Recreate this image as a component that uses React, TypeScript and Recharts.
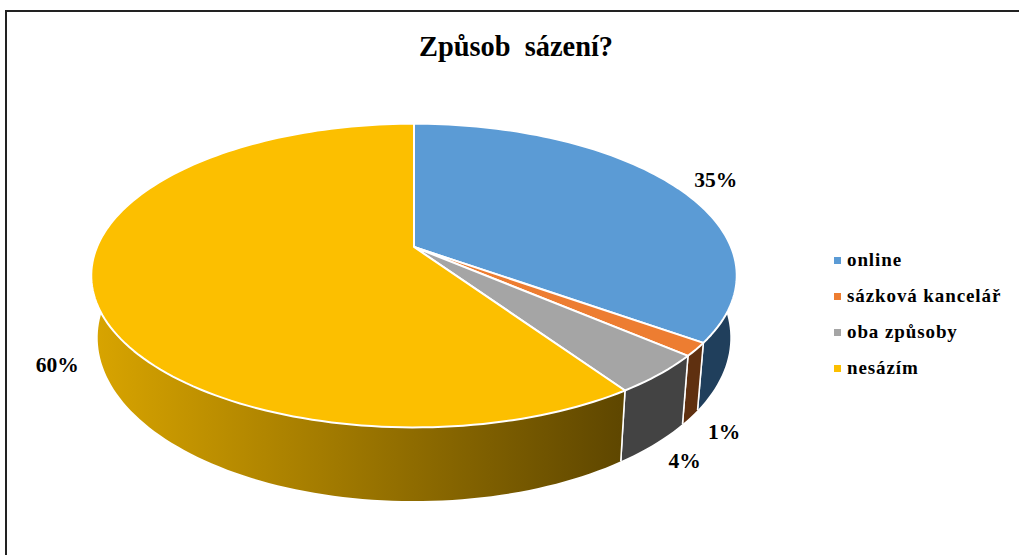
import { Legend, Pie, PieChart } from "recharts";

const categories = ["online", "sázková kancelář", "oba způsoby", "nesázím"];
const shares = [34.9, 1.4, 4.2, 59.5];
const topColors = ["#5b9bd5", "#ed7d31", "#a5a5a5", "#fcbf00"];
const wallColors = ["#203f5c", "#5f3010", "#434343", "url(#yellowWall)"];
// label offset from the rim point of each slice
const labelNudges = [
  [42, -5],
  [28, 83],
  [25, 87],
  [-36, 72],
];

const tableData = categories.map((name, i) => ({
  name,
  value: shares[i],
  fill: topColors[i],
  wall: wallColors[i],
}));

const CX = 414;
const CY = 247;
const RADIUS = 317;
// perspective of the tilted disc, fitted to the rim of the picture
const TILT = 146.5 / 317;
const FAR = 0.188;

const RAD = Math.PI / 180;

// recharts angle (deg, ccw from 3 o'clock) to a point on the tilted top disc
function rimTop(angle: number, r = RADIUS) {
  const u = Math.cos(angle * RAD);
  const v = Math.sin(angle * RAD);
  const d = 1 + FAR * v;
  return { x: CX + (r * u) / d, y: CY - (r * TILT * v) / d };
}

function rimBottom(angle: number, r = RADIUS) {
  const u = Math.cos(angle * RAD);
  const v = Math.sin(angle * RAD);
  const d = 1 + FAR * v;
  return { x: CX + (r * 0.98 * u) / d, y: 307 - (r * 0.4972 * v) / d };
}

function arcAngles(start: number, end: number) {
  const steps = Math.max(2, Math.ceil(Math.abs(end - start) / 1.5));
  const out: number[] = [];
  for (let i = 0; i <= steps; i++) out.push(start + ((end - start) * i) / steps);
  return out;
}

function TopSlice(props: any) {
  const { startAngle, endAngle, outerRadius, fill } = props;
  const pts = arcAngles(startAngle, endAngle).map((a) => rimTop(a, outerRadius));
  const d = `M${CX},${CY} ` + pts.map((p) => `L${p.x},${p.y}`).join(" ") + " Z";
  return <path d={d} fill={fill} stroke="#fff" strokeWidth={2} strokeLinejoin="round" />;
}

function WallSlice(props: any) {
  const { startAngle, endAngle, outerRadius, wall } = props;
  const angles = arcAngles(startAngle, endAngle);
  let d = "";
  for (let i = 0; i < angles.length - 1; i++) {
    const a = rimTop(angles[i], outerRadius);
    const b = rimTop(angles[i + 1], outerRadius);
    const c = rimBottom(angles[i + 1], outerRadius);
    const e = rimBottom(angles[i], outerRadius);
    d += `M${a.x},${a.y} L${b.x},${b.y} L${c.x},${c.y} L${e.x},${e.y} Z `;
  }
  const s0 = rimTop(startAngle, outerRadius);
  const s1 = rimBottom(startAngle, outerRadius);
  const e0 = rimTop(endAngle, outerRadius);
  const e1 = rimBottom(endAngle, outerRadius);
  return (
    <g>
      <path d={d} fill={wall} stroke="none" />
      <line x1={s0.x} y1={s0.y} x2={s1.x} y2={s1.y} stroke="#fff" strokeWidth={1.5} />
      <line x1={e0.x} y1={e0.y} x2={e1.x} y2={e1.y} stroke="#fff" strokeWidth={1.5} />
    </g>
  );
}

function percentLabel(props: any) {
  const { midAngle, outerRadius, index, value } = props;
  const p = rimTop(midAngle, outerRadius);
  const [dx, dy] = labelNudges[index];
  return (
    <text
      x={p.x + dx}
      y={p.y + dy}
      textAnchor="middle"
      dominantBaseline="central"
      fontFamily="'Liberation Serif', serif"
      fontWeight="bold"
      fontSize={21.5}
      fill="#000"
    >
      {Math.round(value)}%
    </text>
  );
}

function LegendList({ payload }: any) {
  // the wall pie has no legend entries of its own
  const items = (payload || []).filter((entry: any) => entry.type !== "none");
  return (
    <div>
      {items.map((entry: any) => (
        <div key={entry.value} style={{ display: "flex", alignItems: "center", height: 36 }}>
          <span
            style={{
              width: 7,
              height: 7,
              background: entry.color,
              marginRight: 6,
              flex: "none",
            }}
          />
          <span
            style={{
              fontFamily: "'Liberation Serif', serif",
              fontWeight: "bold",
              fontSize: 19,
              letterSpacing: 0.9,
              color: "#000",
              whiteSpace: "nowrap",
            }}
          >
            {entry.value}
          </span>
        </div>
      ))}
    </div>
  );
}

export default function App() {
  return (
    <div
      style={{
        position: "absolute",
        left: 0,
        top: 0,
        width: 1019,
        height: 555,
        background: "#fff",
        overflow: "hidden",
      }}
    >
      <div style={{ position: "absolute", left: 5, top: 10, right: 0, height: 2, background: "#222" }} />
      <div style={{ position: "absolute", left: 5, top: 10, bottom: 0, width: 2, background: "#222" }} />
      <div
        style={{
          position: "absolute",
          left: 0,
          width: 1032,
          top: 27,
          textAlign: "center",
          fontFamily: "'Liberation Serif', serif",
          fontWeight: "bold",
          fontSize: 28.4,
          lineHeight: "40px",
          whiteSpace: "pre",
          color: "#000",
        }}
      >
        {"Způsob  sázení?"}
      </div>
      <PieChart width={1019} height={555} margin={{ top: 0, right: 0, bottom: 0, left: 0 }}>
        <defs>
          <linearGradient id="yellowWall" gradientUnits="userSpaceOnUse" x1={95} y1={0} x2={620} y2={0}>
            <stop offset="0%" stopColor="#d8a400" />
            <stop offset="100%" stopColor="#5f4700" />
          </linearGradient>
        </defs>
        <Pie
          data={tableData}
          dataKey="value"
          nameKey="name"
          cx={CX}
          cy={CY}
          outerRadius={RADIUS}
          startAngle={90}
          endAngle={-270}
          stroke="none"
          legendType="none"
          shape={WallSlice}
          isAnimationActive={false}
        />
        <Pie
          data={tableData}
          dataKey="value"
          nameKey="name"
          cx={CX}
          cy={CY}
          outerRadius={RADIUS}
          startAngle={90}
          endAngle={-270}
          shape={TopSlice}
          label={percentLabel}
          labelLine={false}
          isAnimationActive={false}
        />
        <Legend
          layout="vertical"
          align="right"
          verticalAlign="top"
          itemSorter={null}
          content={LegendList}
          wrapperStyle={{ position: "absolute", left: 834, top: 242, width: 185 }}
        />
      </PieChart>
    </div>
  );
}
